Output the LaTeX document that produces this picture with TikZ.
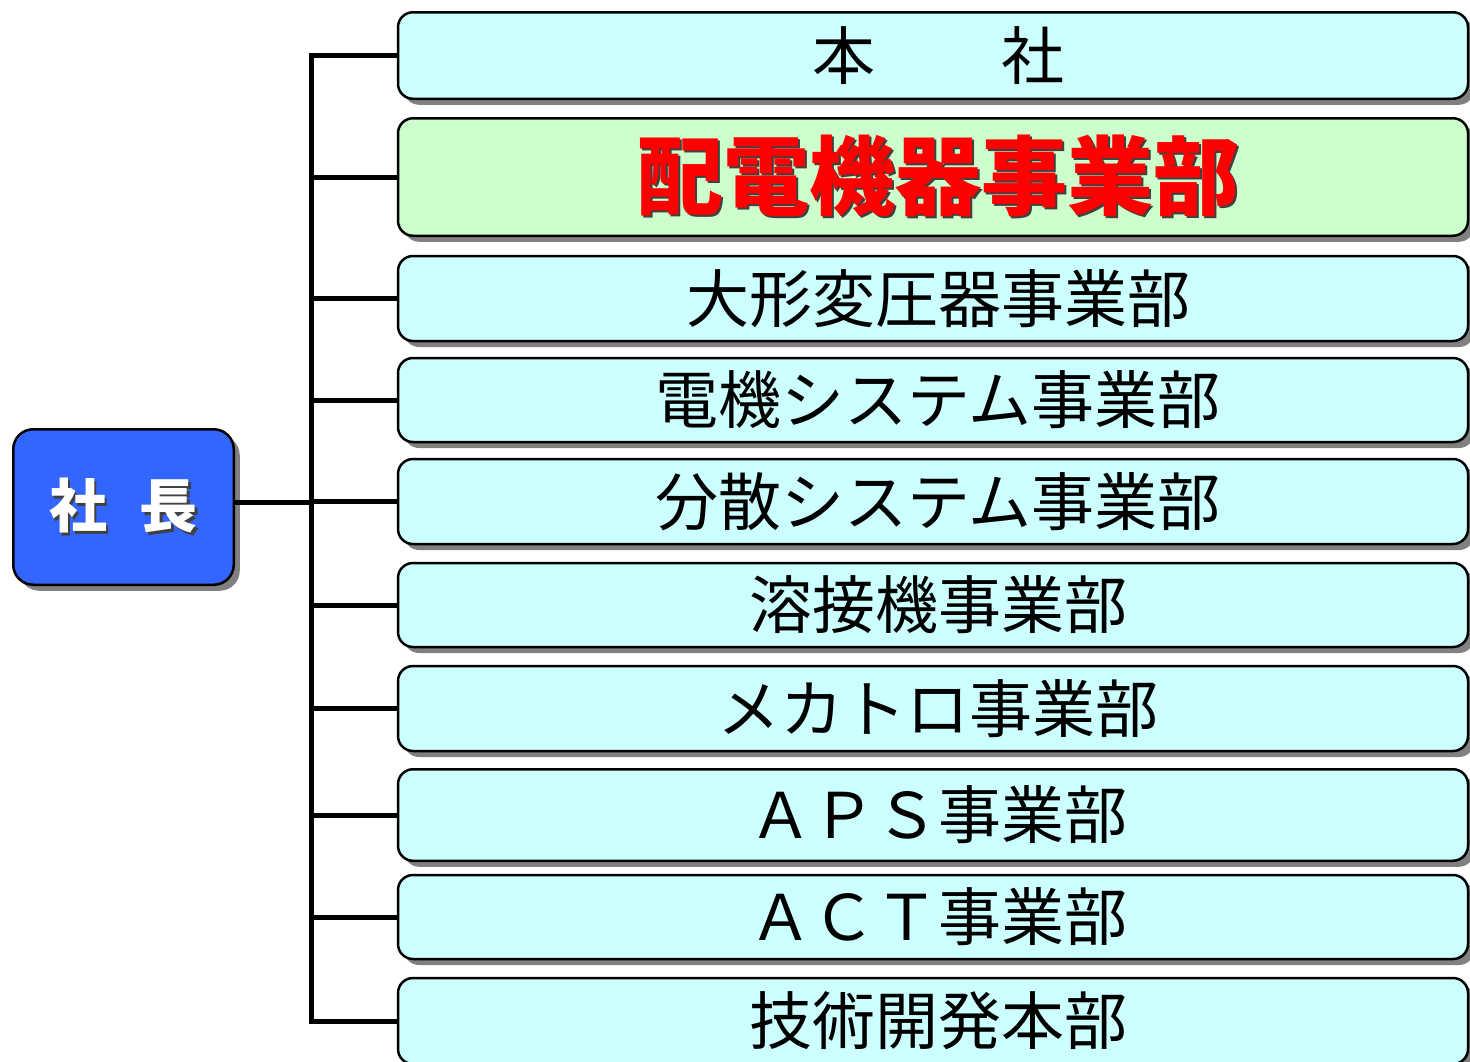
\documentclass[tikz,border=0pt]{standalone}
\usepackage{fontspec}
\newfontfamily\jp{Noto Sans CJK JP}
\usetikzlibrary{shadows}
\definecolor{deptfill}{HTML}{CCFFFF}
\definecolor{hifill}{HTML}{CCFFCC}
\definecolor{bossfill}{HTML}{3366FF}
\definecolor{shadowgray}{HTML}{808080}
\definecolor{txtshadow}{HTML}{404040}
\newcommand\deptfont{\jp\fontsize{63pt}{63pt}\selectfont}
\newcommand\hifont{\jp\bfseries\fontsize{86pt}{86pt}\selectfont}
\newcommand\bossfont{\jp\bfseries\fontsize{58pt}{58pt}\selectfont}
\newcommand\shtext[3]{\leavevmode\rlap{\kern#2\raisebox{-#2}{\textcolor{#1}{#3}}}#3}
\begin{document}
\begin{tikzpicture}[x=1pt,y=-1pt,
  conn/.style={line width=5pt, draw=black},
  boxshadow/.style={drop shadow={shadow xshift=6pt, shadow yshift=-6pt, fill=shadowgray, opacity=1}},
  dept/.style={draw=black, line width=2.5pt, rounded corners=15pt, fill=deptfill,
    minimum width=1070pt, inner sep=0pt, boxshadow, font=\deptfont, text=black},
  hidept/.style={dept, fill=hifill, font=\hifont, text=red},
  boss/.style={draw=black, line width=2.5pt, rounded corners=20pt, fill=bossfill,
    minimum width=220.5pt, minimum height=155.5pt, inner sep=0pt, boxshadow,
    font=\bossfont, text=white}]
\useasboundingbox (0,0) rectangle (1470,1061);

\node[boss] (boss) at (123.5,507) {\raisebox{5pt}{\shtext{txtshadow}{2.5pt}{社\hspace{33pt}長}}};

\node[dept, minimum height=86.5pt] (honsha) at (933,55.5) {\hspace*{10pt}\raisebox{4pt}{本　　社}};
\node[hidept, minimum height=117.5pt] (haiden) at (933,177) {\hspace*{10pt}\shtext{txtshadow}{2.5pt}{配電機器事業部}};
\node[dept, minimum height=85pt] (ogata) at (933,298.5) {\hspace*{10pt}大形変圧器事業部};
\node[dept, minimum height=84pt] (denki) at (933,400) {\hspace*{10pt}電機システム事業部};
\node[dept, minimum height=85pt] (bunsan) at (933,501.5) {\hspace*{10pt}分散システム事業部};
\node[dept, minimum height=84pt] (yosetsu) at (933,605) {\hspace*{10pt}溶接機事業部};
\node[dept, minimum height=85pt] (mecha) at (933,708.5) {\hspace*{10pt}メカトロ事業部};
\node[dept, minimum height=91.5pt] (aps) at (933,815) {\hspace*{10pt}ＡＰＳ事業部};
\node[dept, minimum height=84pt] (act) at (933,917) {\hspace*{10pt}ＡＣＴ事業部};
\node[dept, minimum height=86pt] (gijutsu) at (933,1021) {\hspace*{10pt}技術開発本部};

\coordinate (bus) at (311,502);
\draw[conn] (boss.east |- bus) -- (bus);
\draw[conn, line cap=rect] (bus |- honsha.west) -- (bus |- gijutsu.west);
\foreach \n in {honsha,haiden,ogata,denki,bunsan,yosetsu,mecha,aps,act,gijutsu}
  \draw[conn] (bus |- \n.west) -- (\n.west);
\end{tikzpicture}
\end{document}
